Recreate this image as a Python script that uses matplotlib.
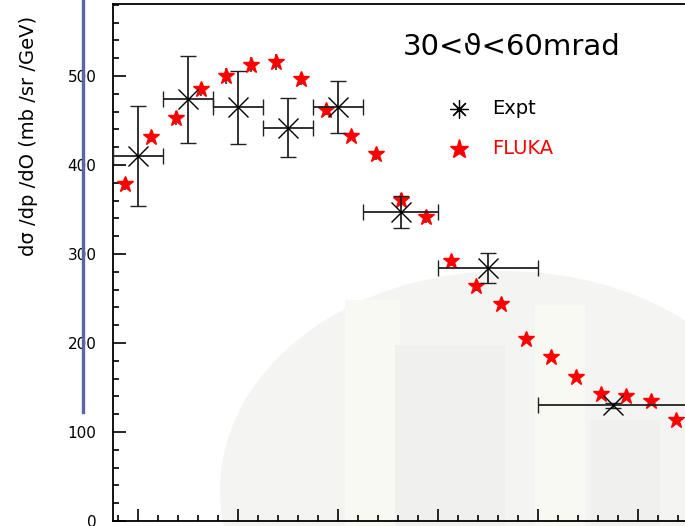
import matplotlib
matplotlib.use("Agg")
import matplotlib.pyplot as plt
from matplotlib.patches import Circle, Rectangle
from matplotlib.lines import Line2D
import numpy as np

plt.rcParams['font.family'] = ['DejaVu Sans']

# experimental points (momentum bin centres, half widths, values, errors)
expt_p = [1.0, 1.5, 2.0, 2.5, 3.0, 3.625, 4.5, 5.75]
expt_dp = [0.25, 0.25, 0.25, 0.25, 0.25, 0.375, 0.5, 0.75]
expt_val = [410, 474, 465, 442, 465, 347, 284, 130]
expt_err = [56, 49, 41, 33, 29, 18, 17, 3]

# FLUKA prediction
fluka_p = [0.875, 1.125, 1.375, 1.625, 1.875, 2.125, 2.375, 2.625, 2.875, 3.125,
           3.375, 3.625, 3.875, 4.125, 4.375, 4.625, 4.875, 5.125, 5.375, 5.625,
           5.875, 6.125, 6.375]
fluka_val = [379, 432, 453, 485, 500, 513, 516, 497, 462, 433,
             412, 361, 342, 292, 264, 244, 204, 184, 162, 143,
             140, 135, 113]
fluka_err = [7, 6, 8, 7, 9, 8, 9, 7, 6, 5,
             6, 8, 7, 5, 5, 5, 4, 4, 4, 4,
             4, 4, 4]

W, H = 685, 526
fig = plt.figure(figsize=(W / 100, H / 100), dpi=100)

# faint logo watermark in the background
fig.patches.append(Circle((505 / W, 1 - 490 / H), 285 / W, transform=fig.transFigure,
                          facecolor="#f4f5f2", edgecolor="none", zorder=-5))
for (x0, y0, x1, y1, c) in [(345, 300, 400, 526, "#f8f9f2"), (395, 345, 505, 526, "#f0f0ef"),
                            (535, 305, 585, 526, "#f8f9f2"), (590, 420, 660, 526, "#f0f0ef")]:
    fig.patches.append(Rectangle((x0 / W, 1 - y1 / H), (x1 - x0) / W, (y1 - y0) / H,
                                 transform=fig.transFigure, facecolor=c,
                                 edgecolor="none", zorder=-4))

ax = fig.add_axes([113 / W, 5 / H, 625 / W, 517 / H])
ax.patch.set_alpha(0)

ax.errorbar(fluka_p, fluka_val, yerr=fluka_err, fmt="*", color="red", ms=12,
            mec="red", ecolor="#555555", elinewidth=1.5, capsize=0, zorder=3)
ax.errorbar(expt_p, expt_val, xerr=expt_dp, yerr=expt_err, fmt="x", color="black",
            ms=15, mew=1.0, ecolor="#222222", elinewidth=1.3, capsize=6,
            capthick=1.3, zorder=4)

ax.set_xlim(0.75, 7.0)
ax.set_ylim(0, 581)
ax.set_xticks(np.arange(1, 8, 1))
ax.set_xticks(np.arange(0.8, 7.0, 0.2), minor=True)
ax.set_yticks(np.arange(0, 600, 100))
ax.set_yticks(np.arange(0, 581, 20), minor=True)
ax.tick_params(which="both", direction="in", top=False, right=False, width=1.2)
ax.tick_params(which="major", length=9)
ax.tick_params(which="minor", length=4.5)
ax.tick_params(axis="y", labelsize=11, pad=12)
ax.tick_params(axis="x", labelbottom=False)
for s in ax.spines.values():
    s.set_linewidth(1.3)

fig.text(403 / W, 1 - 47 / H, "30<ϑ<60mrad", fontsize=21, va="center", ha="left")

# legend drawn by hand, like the ROOT one
fig.add_artist(Line2D([459 / W], [1 - 109 / H], marker=(8, 2, 0), ms=13, mew=0.9,
                      color="black", transform=fig.transFigure))
fig.add_artist(Line2D([459 / W], [1 - 149 / H], marker="*", ms=14, color="red",
                      transform=fig.transFigure))
fig.text(492 / W, 1 - 109 / H, "Expt", fontsize=14, va="center")
fig.text(492 / W, 1 - 149 / H, "FLUKA", fontsize=14, va="center", color="red")

fig.text(29 / W, 1 - 136 / H, "dσ /dp /dO (mb /sr /GeV)", rotation=90,
         fontsize=14, ha="center", va="center")

# blue bar from the slide
fig.add_artist(Line2D([83 / W, 83 / W], [1.0, 1 - 412 / H], color="#5a64a8", lw=2.4,
                      transform=fig.transFigure))

fig.savefig("out.png", dpi=100)
